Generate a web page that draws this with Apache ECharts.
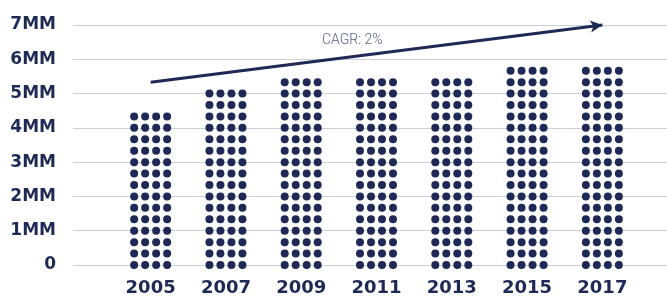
<!DOCTYPE html>
<html>
<head>
<meta charset="utf-8">
<script src="https://cdn.jsdelivr.net/npm/echarts@6/dist/echarts.min.js"></script>
<style>
  html, body { margin: 0; padding: 0; background: #fff; }
  #chart { width: 667px; height: 298px; }
</style>
</head>
<body>
<div id="chart"></div>
<script>
    // data
    var years = ['2005', '2007', '2009', '2011', '2013', '2015', '2017'];
    var people = [4.4e6, 5.1e6, 5.4e6, 5.4e6, 5.4e6, 5.75e6, 5.75e6];
    var yTicks = [0, 1e6, 2e6, 3e6, 4e6, 5e6, 6e6, 7e6];
    var trendFrom = ['2005', 5.33e6];
    var trendTo = ['2017', 7e6];
    var trendLabel = 'CAGR: 2%';

    var navy = '#1e2a55';
    var dotStep = 1e6 / 3;   // one row of dots per third of a million
    var colGap = 11;         // px between dot columns
    var dotR = 4;

    var chart = echarts.init(document.getElementById('chart'));

    var option = {
        animation: false,
        grid: [
            {left: 73, right: 0, top: 25, bottom: 33},   // gridlines + y labels
            {left: 113, right: 27, top: 25, bottom: 33}  // dots
        ],
        xAxis: [
            {gridIndex: 0, type: 'value', show: false},
            {
                gridIndex: 1,
                type: 'category',
                data: years,
                axisLine: {show: false},
                axisTick: {show: false},
                axisLabel: {
                    margin: 14,
                    color: navy,
                    fontFamily: 'DejaVu Sans',
                    fontWeight: 'bold',
                    fontSize: 18
                }
            }
        ],
        yAxis: [
            {
                gridIndex: 0,
                type: 'value',
                min: yTicks[0],
                max: yTicks[yTicks.length - 1],
                interval: 1e6,
                axisLine: {show: false},
                axisTick: {show: false},
                splitLine: {lineStyle: {color: '#cdcedb', width: 1}},
                axisLabel: {
                    margin: 17,
                    color: navy,
                    fontFamily: 'DejaVu Sans',
                    fontWeight: 'bold',
                    fontSize: 17,
                    formatter: function (v) {
                        return v === 0 ? '0' : (v / 1e6) + 'MM';
                    }
                }
            },
            {gridIndex: 1, type: 'value', min: 0, max: 7e6, show: false}
        ],
        graphic: [{
            type: 'text',
            left: 322,
            top: 33,
            style: {
                text: trendLabel,
                font: '300 14px Roboto',
                fill: '#56618a'
            }
        }],
        series: [
            {
                type: 'custom',
                xAxisIndex: 1,
                yAxisIndex: 1,
                data: people.map(function (v, i) { return [i, v]; }),
                renderItem: function (params, api) {
                    var cat = api.value(0);
                    var val = api.value(1);
                    var kids = [];
                    for (var k = 0; k * dotStep <= val + 1; k++) {
                        var p = api.coord([cat, k * dotStep]);
                        for (var c = 0; c < 4; c++) {
                            kids.push({
                                type: 'circle',
                                shape: {cx: p[0] + (c - 1.5) * colGap, cy: p[1], r: dotR},
                                style: {fill: navy}
                            });
                        }
                    }
                    return {type: 'group', children: kids};
                }
            },
            {
                type: 'line',
                xAxisIndex: 1,
                yAxisIndex: 1,
                data: [],
                markLine: {
                    silent: true,
                    symbol: ['none', 'arrow'],
                    symbolSize: [9, 12],
                    label: {show: false},
                    lineStyle: {color: navy, width: 3, type: 'solid'},
                    data: [[{coord: trendFrom}, {coord: trendTo}]]
                }
            }
        ]
    };

    chart.setOption(option);
</script>
</body>
</html>
